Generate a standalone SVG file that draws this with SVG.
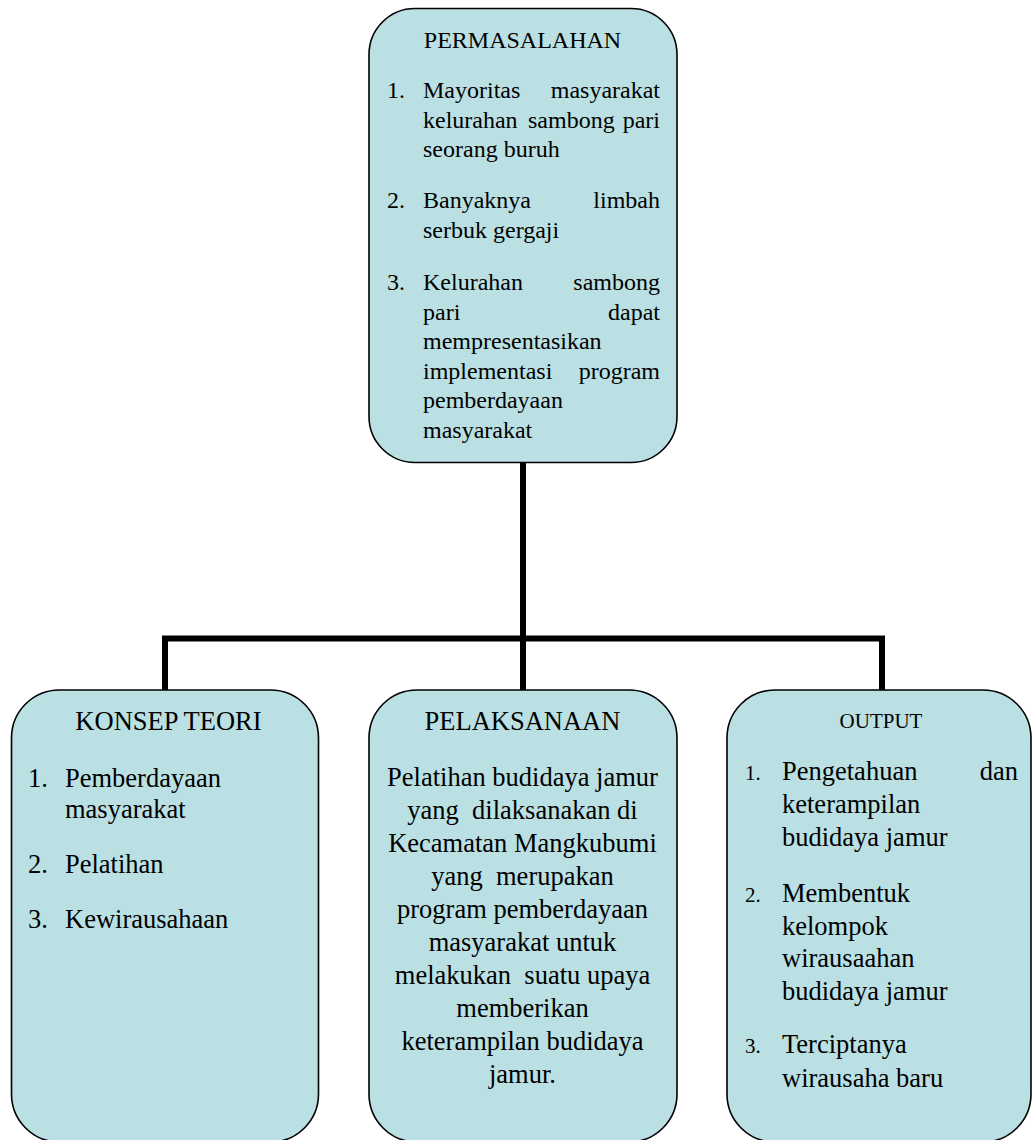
<svg xmlns="http://www.w3.org/2000/svg" width="1032" height="1140" viewBox="0 0 1032 1140">
<style>
.box{fill:#BBE0E3;stroke:#000;stroke-width:1.6}
.t{font-family:"Liberation Serif","Times New Roman",serif;fill:#000}
.s24{font-size:24px}
.s26{font-size:26.5px}
.s21{font-size:21px}
.m{text-anchor:middle}
.e{text-anchor:end}
.conn{fill:none;stroke:#000;stroke-width:6;stroke-linejoin:miter}
</style>
<rect width="1032" height="1140" fill="#fff"/>
<g id="connectors">
<path class="conn" d="M523,463 V690"/>
<path class="conn" d="M165,690 V638.5 H882 V690"/>
</g>
<g id="permasalahan">
<rect class="box" x="369" y="8.5" width="308" height="454" rx="46" ry="46"/>
<text class="t s24 m" x="522.5" y="48">PERMASALAHAN</text>
<text class="t s24" x="387" y="98">1.</text>
<text class="t s24" x="423" y="98">Mayoritas</text>
<text class="t s24 e" x="660" y="98">masyarakat</text>
<text class="t s24" x="423" y="127.5">kelurahan</text>
<text class="t s24" x="528" y="127.5">sambong</text>
<text class="t s24 e" x="660" y="127.5">pari</text>
<text class="t s24" x="423" y="157">seorang buruh</text>
<text class="t s24" x="387" y="208">2.</text>
<text class="t s24" x="423" y="208">Banyaknya</text>
<text class="t s24 e" x="660" y="208">limbah</text>
<text class="t s24" x="423" y="237.5">serbuk gergaji</text>
<text class="t s24" x="387" y="290">3.</text>
<text class="t s24" x="423" y="290">Kelurahan</text>
<text class="t s24 e" x="660" y="290">sambong</text>
<text class="t s24" x="423" y="319.5">pari</text>
<text class="t s24 e" x="660" y="319.5">dapat</text>
<text class="t s24" x="423" y="349">mempresentasikan</text>
<text class="t s24" x="423" y="378.5">implementasi</text>
<text class="t s24 e" x="660" y="378.5">program</text>
<text class="t s24" x="423" y="408">pemberdayaan</text>
<text class="t s24" x="423" y="437.5">masyarakat</text>
</g>
<g id="konsep-teori">
<rect class="box" x="11.5" y="690" width="307" height="452" rx="48" ry="48"/>
<text class="t s26 m" x="168.5" y="730">KONSEP TEORI</text>
<text class="t s26" x="28" y="787">1.</text>
<text class="t s26" x="65" y="787">Pemberdayaan</text>
<text class="t s26" x="65" y="818">masyarakat</text>
<text class="t s26" x="28" y="873">2.</text>
<text class="t s26" x="65" y="873">Pelatihan</text>
<text class="t s26" x="28" y="928">3.</text>
<text class="t s26" x="65" y="928">Kewirausahaan</text>
</g>
<g id="pelaksanaan">
<rect class="box" x="369" y="690" width="308" height="452" rx="48" ry="48"/>
<text class="t s26 m" x="522.5" y="730">PELAKSANAAN</text>
<text class="t s26 m" x="522.5" y="786">Pelatihan budidaya jamur</text>
<text class="t s26 m" x="522.5" y="819" xml:space="preserve">yang  dilaksanakan di</text>
<text class="t s26 m" x="522.5" y="852">Kecamatan Mangkubumi</text>
<text class="t s26 m" x="522.5" y="885" xml:space="preserve">yang  merupakan</text>
<text class="t s26 m" x="522.5" y="918">program pemberdayaan</text>
<text class="t s26 m" x="522.5" y="951">masyarakat untuk</text>
<text class="t s26 m" x="522.5" y="984" xml:space="preserve">melakukan  suatu upaya</text>
<text class="t s26 m" x="522.5" y="1017">memberikan</text>
<text class="t s26 m" x="522.5" y="1050">keterampilan budidaya</text>
<text class="t s26 m" x="522.5" y="1083">jamur.</text>
</g>
<g id="output">
<rect class="box" x="727" y="690" width="304" height="452" rx="48" ry="48"/>
<text class="t s21 m" x="881" y="728">OUTPUT</text>
<text class="t s21" x="745" y="780">1.</text>
<text class="t s26" x="782" y="780">Pengetahuan</text>
<text class="t s26 e" x="1018" y="780">dan</text>
<text class="t s26" x="782" y="813">keterampilan</text>
<text class="t s26" x="782" y="846">budidaya jamur</text>
<text class="t s21" x="745" y="902">2.</text>
<text class="t s26" x="782" y="902">Membentuk</text>
<text class="t s26" x="782" y="934.5">kelompok</text>
<text class="t s26" x="782" y="967">wirausaahan</text>
<text class="t s26" x="782" y="1000">budidaya jamur</text>
<text class="t s21" x="745" y="1053">3.</text>
<text class="t s26" x="782" y="1053">Terciptanya</text>
<text class="t s26" x="782" y="1087">wirausaha baru</text>
</g>
</svg>
